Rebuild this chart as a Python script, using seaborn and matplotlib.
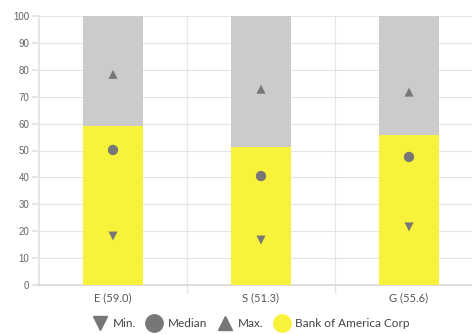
import matplotlib
matplotlib.use("Agg")
import matplotlib.pyplot as plt
from matplotlib.lines import Line2D
import seaborn as sns
import pandas as pd

categories = ["E (59.0)", "S (51.3)", "G (55.6)"]
company_scores = [59.0, 51.3, 55.6]
max_scores = [78.3, 72.8, 71.7]
median_scores = [50.2, 40.5, 47.6]
min_scores = [18.2, 16.7, 21.6]
full_scale = [100, 100, 100]
company_name = "Bank of America Corp"

sns.set_theme(style="white")
plt.rcParams['font.family'] = ['Lato', 'DejaVu Sans']

fig = plt.figure(figsize=(4.72, 3.34), dpi=100)
ax = fig.add_axes([39/472, 49/334, 444/472, 269/334])

df = pd.DataFrame({"cat": categories, "score": company_scores, "full": full_scale,
                   "max": max_scores, "median": median_scores, "min": min_scores})

sns.barplot(data=df, x="cat", y="full", color="#cbcbcb", width=0.405, ax=ax,
            saturation=1, zorder=2, linewidth=0)
sns.barplot(data=df, x="cat", y="score", color="#f8f23a", width=0.405, ax=ax,
            saturation=1, zorder=3, linewidth=0)

mk_color = "#777777"
sns.scatterplot(data=df, x="cat", y="max", marker="^", s=42, color=mk_color,
                edgecolor="none", ax=ax, zorder=4)
sns.scatterplot(data=df, x="cat", y="median", marker="o", s=55, color=mk_color,
                edgecolor="none", ax=ax, zorder=4)
sns.scatterplot(data=df, x="cat", y="min", marker="v", s=42, color=mk_color,
                edgecolor="none", ax=ax, zorder=4)

ax.set_xlim(-0.5, 2.5)
ax.set_ylim(0, 100)
ax.set_yticks(range(0, 101, 10))
ax.set_xlabel("")
ax.set_ylabel("")
ax.set_axisbelow(True)
ax.grid(axis="y", color="#e3e3e3", linewidth=0.8)
for b in [0.5, 1.5]:
    ax.axvline(b, color="#e6e6e6", linewidth=0.8, zorder=0)
ax.set_xticks([0.5, 1.5], minor=True)
for s in ["top", "right"]:
    ax.spines[s].set_visible(False)
ax.spines["left"].set_color("#e3e3e3")
ax.spines["bottom"].set_color("#d9d9d9")
ax.tick_params(axis="y", left=True, length=5, color="#e3e3e3", labelsize=7,
               labelcolor="#666666", pad=2)
ax.tick_params(axis="x", which="major", bottom=False, length=0, labelsize=8,
               labelcolor="#555555", pad=5)
ax.tick_params(axis="x", which="minor", bottom=True, length=6, color="#e3e3e3")
for lab in ax.get_yticklabels():
    lab.set_fontfamily(['Liberation Sans', 'DejaVu Sans'])

handles = [
    Line2D([], [], marker="v", linestyle="none", color=mk_color, markersize=10),
    Line2D([], [], marker="o", linestyle="none", color=mk_color, markersize=12.5),
    Line2D([], [], marker="^", linestyle="none", color=mk_color, markersize=10),
    Line2D([], [], marker="o", linestyle="none", color="#f8f23a", markersize=12.5),
]
fig.legend(handles, ["Min.", "Median", "Max.", company_name], loc="center",
           bbox_to_anchor=(0.527, 0.032), ncol=4, frameon=False, fontsize=8.5,
           handletextpad=0.15, columnspacing=0.5, labelcolor="#444444")

fig.savefig("out.png", dpi=100)
